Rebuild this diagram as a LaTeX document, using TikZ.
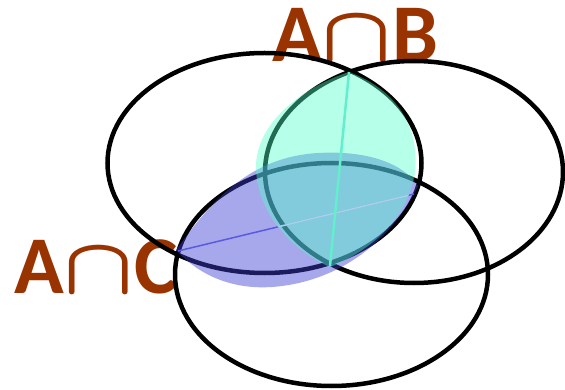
\documentclass[tikz,border=0pt]{standalone}
\usepackage{fontspec}
\newfontfamily\lblfont{Carlito}
\definecolor{lblbrown}{RGB}{153,51,0}
\definecolor{aquafill}{RGB}{80,255,200}
\definecolor{violetfill}{RGB}{60,60,210}
\definecolor{aquachord}{RGB}{100,238,205}
\definecolor{violetchord}{RGB}{90,90,225}
\newcommand{\bigcapsym}{\scalebox{9.2}[8]{\fontsize{10}{10}\selectfont\boldmath$\cap$}}
\tikzset{
  venn/.style={draw=black, line width=4.5pt},
  lbl/.style={text=lblbrown, font=\lblfont\bfseries\fontsize{82}{82}\selectfont, inner sep=0pt, anchor=base west},
}
\def\cyanblob{(349,72) .. controls (300,88) and (255,125) .. (256,168) .. controls (257,215) and (295,252) .. (330,267) .. controls (372,250) and (408,218) .. (415,172) .. controls (420,122) and (392,88) .. cycle}
\def\blueblob{(176,250) .. controls (212,200) and (250,157) .. (318,153) .. controls (370,150) and (405,165) .. (418,186) .. controls (392,240) and (340,282) .. (272,287) .. controls (228,290) and (196,272) .. cycle}
\begin{document}
\begin{tikzpicture}[x=1pt,y=-1pt]
\useasboundingbox (0,0) rectangle (565,390);
% labels
\node[lbl] (lab) at (272,62) {A\bigcapsym B};
\node[lbl] (lac) at (14,293) {A\bigcapsym C};
% ellipses
\draw[venn] (264.5,163) ellipse [x radius=157, y radius=110];
\draw[venn] (414,172) ellipse [x radius=149, y radius=111];
\draw[venn] (331.5,274.5) ellipse [x radius=156.5, y radius=111.5];
% A cap C region
\fill[violetfill, fill opacity=0.45] \blueblob;
\draw[violetchord, line width=1.5pt] (178,251) -- (414,194);
% A cap B region
\fill[aquafill, fill opacity=0.42] \cyanblob;
\begin{scope}
\clip \cyanblob;
\draw[white, opacity=0.5, line width=1.5pt] (178,251) -- (414,194);
\end{scope}
\draw[aquachord, line width=2.5pt] (349,72) -- (330,266);
\end{tikzpicture}
\end{document}
